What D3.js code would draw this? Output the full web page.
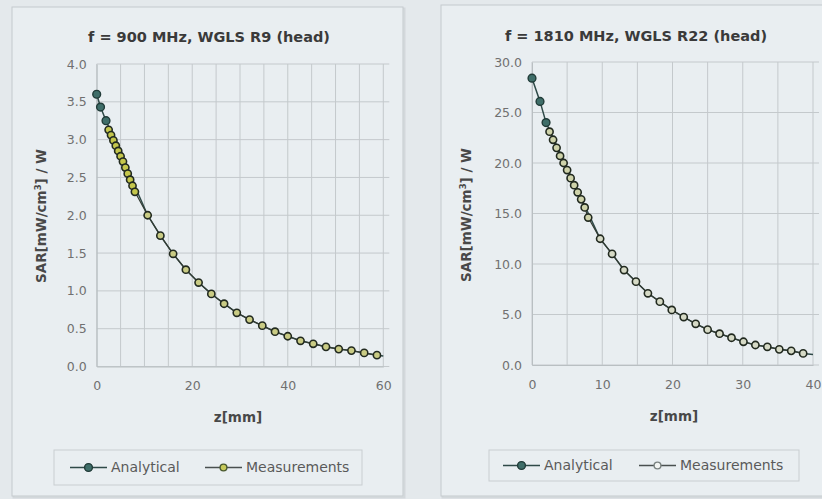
<!DOCTYPE html>
<html><head><meta charset="utf-8">
<script src="https://cdn.jsdelivr.net/npm/d3@7"></script>
<style>
html,body{margin:0;padding:0;background:#e4e9ec;}
svg{display:block;font-family:"DejaVu Sans",Verdana,sans-serif;}
</style></head><body>
<svg id="c" width="822" height="499"></svg>
<script>
// ---- Chart 1 data: f = 900 MHz ----
const titles = ["f = 900 MHz, WGLS R9 (head)", "f = 1810 MHz, WGLS R22 (head)"];
const c1AnalyticalZ = [0, 0.8, 1.95, 10.67, 13.33, 16, 18.67, 21.33, 24, 26.67, 29.33, 32, 34.67, 37.33, 40, 42.67, 45.33, 48, 50.67, 53.33, 56, 58.67, 60];
const c1AnalyticalV = [3.60, 3.43, 3.25, 2.00, 1.73, 1.49, 1.28, 1.11, 0.96, 0.83, 0.71, 0.62, 0.54, 0.46, 0.40, 0.34, 0.30, 0.26, 0.23, 0.21, 0.18, 0.15, 0.14];
const c1MeasZ = [2.5, 3, 3.5, 4, 4.5, 5, 5.5, 6, 6.5, 7, 7.5, 8, 10.67, 13.33, 16, 18.67, 21.33, 24, 26.67, 29.33, 32, 34.67, 37.33, 40, 42.67, 45.33, 48, 50.67, 53.33, 56, 58.67];
const c1MeasV = [3.13, 3.06, 2.99, 2.92, 2.85, 2.78, 2.71, 2.63, 2.55, 2.47, 2.39, 2.31, 2.00, 1.73, 1.49, 1.28, 1.11, 0.96, 0.83, 0.71, 0.62, 0.54, 0.46, 0.40, 0.34, 0.30, 0.26, 0.23, 0.21, 0.18, 0.15];
const c1XTicks = [0, 20, 40, 60];
const c1YTicks = [0, 0.5, 1.0, 1.5, 2.0, 2.5, 3.0, 3.5, 4.0];
// ---- Chart 2 data: f = 1810 MHz ----
const c2AnalyticalZ = [0, 1.14, 2.0, 9.7, 11.4, 13.1, 14.8, 16.5, 18.2, 19.9, 21.6, 23.3, 25.0, 26.7, 28.4, 30.1, 31.8, 33.5, 35.2, 36.9, 38.6, 40];
const c2AnalyticalV = [28.4, 26.1, 24.0, 12.5, 11.0, 9.4, 8.25, 7.1, 6.27, 5.45, 4.75, 4.08, 3.5, 3.1, 2.7, 2.3, 1.98, 1.8, 1.55, 1.4, 1.15, 1.05];
const c2MeasZ = [2.5, 3, 3.5, 4, 4.5, 5, 5.5, 6, 6.5, 7, 7.5, 8, 9.7, 11.4, 13.1, 14.8, 16.5, 18.2, 19.9, 21.6, 23.3, 25.0, 26.7, 28.4, 30.1, 31.8, 33.5, 35.2, 36.9, 38.6];
const c2MeasV = [23.1, 22.3, 21.5, 20.7, 20.0, 19.3, 18.5, 17.8, 17.1, 16.4, 15.6, 14.6, 12.5, 11.0, 9.4, 8.25, 7.1, 6.27, 5.45, 4.75, 4.08, 3.5, 3.1, 2.7, 2.3, 1.98, 1.8, 1.55, 1.4, 1.15];
const c2XTicks = [0, 10, 20, 30, 40];
const c2YTicks = [0, 5, 10, 15, 20, 25, 30];
const seriesNames = ["Analytical", "Measurements"];
const xLabel = "z[mm]";

const svg = d3.select("#c");

function chart(cfg) {
  const g = svg.append("g");
  // panel
  g.append("rect").attr("x", cfg.panel[0] + 1.5).attr("y", cfg.panel[1] + 1.5)
    .attr("width", cfg.panel[2]).attr("height", cfg.panel[3])
    .attr("fill", "none").attr("stroke", "#d3d8db").attr("stroke-width", 2);
  g.append("rect").attr("x", cfg.panel[0]).attr("y", cfg.panel[1])
    .attr("width", cfg.panel[2]).attr("height", cfg.panel[3])
    .attr("fill", "#e9eef1").attr("stroke", "#c4cacd").attr("stroke-width", 1);

  const x = d3.scaleLinear().domain(cfg.xDomain).range(cfg.xRange);
  const y = d3.scaleLinear().domain(cfg.yDomain).range(cfg.yRange);

  // grid
  const vg = d3.range(cfg.xDomain[0], cfg.xDomain[1] + 0.001, cfg.xMinor);
  g.append("g").selectAll("line").data(vg).join("line")
    .attr("x1", d => x(d)).attr("x2", d => x(d))
    .attr("y1", y(cfg.yDomain[1])).attr("y2", y(cfg.yDomain[0]))
    .attr("stroke", "#c4c9cc").attr("stroke-width", 1);
  g.append("g").selectAll("line").data(cfg.yTicks).join("line")
    .attr("x1", x(cfg.xDomain[0])).attr("x2", x(cfg.xDomain[1]) + 6)
    .attr("y1", d => y(d)).attr("y2", d => y(d))
    .attr("stroke", "#c4c9cc").attr("stroke-width", 1);

  // axes
  const ya = d3.axisLeft(y).tickValues(cfg.yTicks).tickFormat(d3.format(".1f")).tickSize(0).tickPadding(10);
  const yg = g.append("g").attr("transform", `translate(${x(cfg.xDomain[0])},0)`).call(ya);
  const xa = d3.axisBottom(x).tickValues(cfg.xTicks).tickFormat(d3.format("d")).tickSize(0).tickPadding(15);
  const xg = g.append("g").attr("transform", `translate(0,${y(cfg.yDomain[0])})`).call(xa);
  [yg, xg].forEach(a => {
    a.select(".domain").attr("stroke", "#b9bfc2");
    a.selectAll("text").attr("fill", "#707070").attr("font-size", 12.5).attr("font-family", "DejaVu Sans");
  });

  // title
  g.append("text").attr("x", cfg.titlePos[0]).attr("y", cfg.titlePos[1])
    .attr("text-anchor", "middle").attr("font-weight", "bold").attr("font-size", 14.5)
    .attr("fill", "#3a3a3a").text(cfg.title);
  // x label
  g.append("text").attr("x", cfg.xLabPos[0]).attr("y", cfg.xLabPos[1])
    .attr("text-anchor", "middle").attr("font-weight", "bold").attr("font-size", 13.5)
    .attr("fill", "#484848").text(xLabel);
  // y label
  const yl = g.append("text").attr("transform", `translate(${cfg.yLabPos[0]},${cfg.yLabPos[1]}) rotate(-90)`)
    .attr("text-anchor", "middle").attr("font-weight", "bold").attr("font-size", 13.5).attr("fill", "#484848");
  yl.append("tspan").text("SAR[mW/cm");
  yl.append("tspan").attr("font-size", 8.5).attr("dy", -5).text("3");
  yl.append("tspan").attr("dy", 5).text("] / W");

  const line = d3.line().x(d => x(d[0])).y(d => y(d[1]));
  const aPts = cfg.aZ.map((z, i) => [z, cfg.aV[i]]);
  const mPts = cfg.mZ.map((z, i) => [z, cfg.mV[i]]);
  g.append("path").datum(aPts).attr("d", line).attr("fill", "none").attr("stroke", "#2f4a48").attr("stroke-width", 1.5);
  g.append("path").datum(mPts).attr("d", line).attr("fill", "none").attr("stroke", "#333b33").attr("stroke-width", 1.2);
  g.append("g").selectAll("circle").data(aPts.slice(0, cfg.aMarkers)).join("circle")
    .attr("cx", d => x(d[0])).attr("cy", d => y(d[1])).attr("r", 3.9)
    .attr("fill", "#3f6e69").attr("stroke", "#213b38").attr("stroke-width", 1.4);
  g.append("g").selectAll("circle").data(mPts).join("circle")
    .attr("cx", d => x(d[0])).attr("cy", d => y(d[1])).attr("r", 3.6)
    .attr("fill", (d, i) => i < 12 ? cfg.mFill : cfg.mFill2).attr("stroke", "#222a20").attr("stroke-width", 1.6);

  // legend
  const L = cfg.legend;
  g.append("rect").attr("x", L.box[0]).attr("y", L.box[1]).attr("width", L.box[2]).attr("height", L.box[3])
    .attr("fill", "#e9eef1").attr("stroke", "#c9ced1");
  const ly = L.box[1] + L.box[3] / 2;
  const items = [
    {x0: L.a[0], x1: L.a[1], tx: L.a[2], fill: "#3f6e69", stroke: "#213b38", r: 3.9, ls: "#2f4a48"},
    {x0: L.m[0], x1: L.m[1], tx: L.m[2], fill: L.mFill, stroke: L.mStroke, r: 3.4, ls: "#4a5050"}
  ];
  items.forEach((it, i) => {
    g.append("line").attr("x1", it.x0).attr("x2", it.x1).attr("y1", ly).attr("y2", ly).attr("stroke", it.ls).attr("stroke-width", 1.5);
    g.append("circle").attr("cx", (it.x0 + it.x1) / 2).attr("cy", ly).attr("r", it.r)
      .attr("fill", it.fill).attr("stroke", it.stroke).attr("stroke-width", 1.4);
    g.append("text").attr("x", it.tx).attr("y", ly).attr("dy", "0.35em").attr("font-size", 14)
      .attr("fill", "#5a5a5a").text(seriesNames[i]);
  });
}

chart({
  panel: [12, 7, 391, 489],
  xDomain: [0, 60], xRange: [96.7, 383.3], xMinor: 5, xTicks: c1XTicks,
  yDomain: [0, 4], yRange: [366.5, 64], yTicks: c1YTicks,
  title: titles[0], titlePos: [209, 42], xLabPos: [238, 422], yLabPos: [46, 216],
  aZ: c1AnalyticalZ, aV: c1AnalyticalV, aMarkers: 3,
  mZ: c1MeasZ, mV: c1MeasV, mFill: "#c4c64c", mFill2: "#c9cb84",
  legend: {box: [54, 450, 308, 35], a: [70, 107, 111], m: [205, 242, 246], mFill: "#c6c95a", mStroke: "#4a5a30"}
});
chart({
  panel: [441, 5, 400, 491],
  xDomain: [0, 40], xRange: [532, 813], xMinor: 5, xTicks: c2XTicks,
  yDomain: [0, 30], yRange: [365, 62], yTicks: c2YTicks,
  title: titles[1], titlePos: [636, 41], xLabPos: [674, 421], yLabPos: [471, 215],
  aZ: c2AnalyticalZ, aV: c2AnalyticalV, aMarkers: 3,
  mZ: c2MeasZ, mV: c2MeasV, mFill: "#cfd3aa", mFill2: "#d6dac6",
  legend: {box: [489, 450, 310, 31], a: [503, 540, 544], m: [639, 676, 680], mFill: "#f2f4f2", mStroke: "#7a8280"}
});
</script>
</body></html>
